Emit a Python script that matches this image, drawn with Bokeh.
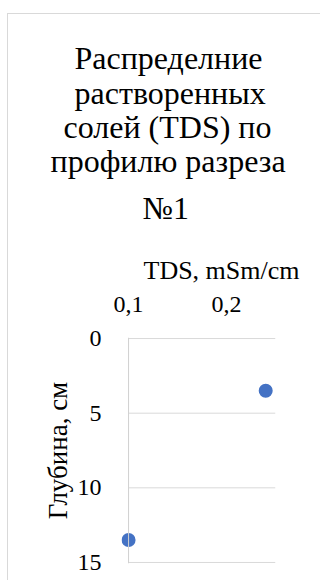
from bokeh.plotting import figure
from bokeh.models import Range1d, Title, Span, FixedTicker, CustomJSTickFormatter
from bokeh.embed import file_html
from bokeh.resources import INLINE

# ---- data ----
tds = [0.24, 0.10]          # TDS, mSm/cm
depth = [3.5, 13.5]         # depth, cm
x_ticks = [0.1, 0.2]
y_ticks = [0, 5, 10, 15]
title_lines = ["Распределние", "растворенных", "солей (TDS) по", "профилю разреза", "№1"]
x_title = "TDS, mSm/cm"
y_title = "Глубина, см"

FONT = "Liberation Serif"
X_MIN, X_MAX = 0.1, 0.25
Y_MIN, Y_MAX = 0, 15
XPAD = 0.0072   # room so a marker on the axis is not cut
YPAD = 0.07

W, H = 313, 567
ML, MR, MT, MB = 113, 46, 323, 18

p = figure(width=W, height=H, output_backend="svg", toolbar_location=None,
           x_range=Range1d(X_MIN - XPAD, X_MAX),
           y_range=Range1d(Y_MAX + YPAD, Y_MIN - YPAD),
           x_axis_location="above", min_border_left=ML, min_border_right=MR,
           min_border_top=MT, min_border_bottom=MB)
p.styles = {"margin-left": "7px", "margin-top": "13px",
            "border-top": "1px solid #d9d9d9", "border-left": "1px solid #d9d9d9"}
p.outline_line_color = None
p.background_fill_color = "white"
p.border_fill_color = "white"

xa = p.xaxis[0]
xa.ticker = FixedTicker(ticks=x_ticks)
xa.formatter = CustomJSTickFormatter(code="return tick.toFixed(1).replace('.', ',');")
xa.axis_line_color = None
xa.major_tick_line_color = None
xa.minor_tick_line_color = None
xa.major_label_text_font = FONT
xa.major_label_text_font_size = "24px"
xa.major_label_text_color = "black"
xa.major_label_standoff = 20

ya = p.yaxis[0]
ya.ticker = FixedTicker(ticks=y_ticks)
ya.axis_line_color = None
ya.major_tick_line_color = None
ya.minor_tick_line_color = None
ya.major_label_text_font = FONT
ya.major_label_text_font_size = "24px"
ya.major_label_text_color = "black"
ya.major_label_standoff = 14
ya.axis_label = y_title
ya.axis_label_text_font = FONT
ya.axis_label_text_font_size = "27px"
ya.axis_label_text_font_style = "normal"
ya.axis_label_text_color = "black"
ya.axis_label_standoff = 2

p.xgrid.visible = False
p.ygrid.visible = False

# gridlines from the y ticks, starting at the vertical axis
p.segment(x0=[X_MIN] * len(y_ticks), x1=[X_MAX] * len(y_ticks), y0=y_ticks, y1=y_ticks,
          line_color="#d9d9d9", line_width=1)
# vertical axis line at x = X_MIN
p.add_layout(Span(location=X_MIN, dimension="height", line_color="#d0d0d0", line_width=1))

p.scatter(tds, depth, size=14, color="#4472C4", line_color=None)


def make_title(text, offset, standoff, size):
    t = Title(text=text, align="left", offset=offset, standoff=0,
              text_font=FONT, text_font_size=size, text_font_style="normal",
              text_color="black")
    try:
        t.standoff = standoff
    except Exception:
        t.standoff = max(standoff, 0)
    return t


# axis title above (left-aligned with an offset, so it sits where the reference has it)
p.add_layout(make_title(x_title, 22, 18, "26px"), "above")
# chart title, one line per Title (added bottom-up); offsets centre each line on the chart
title_offsets = [-47, -47, -58, -71, 21]
title_standoffs = [13, -19, 11, -19, 37]
for line, off, so in reversed(list(zip(title_lines, title_offsets, title_standoffs))):
    p.add_layout(make_title(line, off, so, "32px"), "above")

open("out.html", "w").write(file_html(p, INLINE))
